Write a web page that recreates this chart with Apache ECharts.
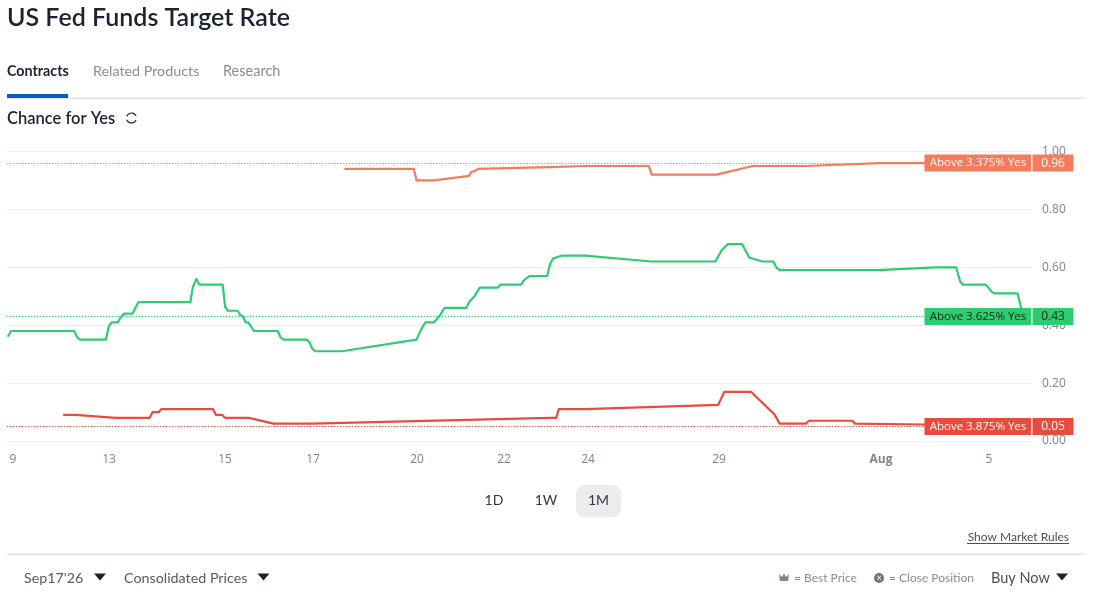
<!DOCTYPE html>
<html>
<head>
<meta charset="utf-8">
<style>html,body{margin:0;padding:0;background:#fff}#c{width:1100px;height:600px}</style>
<script src="https://cdn.jsdelivr.net/npm/echarts@6/dist/echarts.min.js"></script>
</head>
<body>
<div id="c"></div>
<script>
// logical x positions along the session-compressed time axis
const xTickPositions = [6, 102, 218, 306, 410, 497, 581, 712, 874, 982];
const xTickLabels = ['9', '13', '15', '17', '20', '22', '24', '29', 'Aug', '5'];
const yTicks = [0, 0.2, 0.4, 0.6, 0.8, 1];

const greenX = [0.7,4.2,67.3,70.2,73,98.9,101.7,104.5,110.8,114.3,117.1,125.6,131.5,183.4,185.9,189.4,192.2,215.7,218.1,221,230.8,233.2,236,238.5,241.3,246.9,270.8,273.6,276.4,299.9,302.7,305.1,307.9,334.9,409.6,413.8,418.4,427.2,432.1,437.7,459.4,462.2,467.5,472.8,491,493.4,514.1,516.9,522.6,540.1,543,545.8,554.2,578.1,644.7,708.5,714.8,720.8,735.2,742.2,755.2,766.4,769.2,772.7,870.9,928.8,949.1,953.3,955.8,978.9,984.9,987.7,1010.5,1014.7,1015.5];
const greenY = [0.36,0.38,0.38,0.358,0.35,0.35,0.395,0.41,0.41,0.43,0.44,0.44,0.48,0.48,0.533,0.56,0.54,0.54,0.463,0.45,0.45,0.435,0.43,0.41,0.41,0.38,0.38,0.358,0.35,0.35,0.34,0.32,0.31,0.31,0.35,0.383,0.41,0.41,0.43,0.46,0.46,0.48,0.50,0.53,0.53,0.54,0.54,0.555,0.57,0.57,0.61,0.63,0.64,0.64,0.62,0.62,0.66,0.68,0.68,0.634,0.62,0.62,0.60,0.59,0.59,0.60,0.60,0.55,0.54,0.54,0.515,0.51,0.51,0.452,0.43];
const orangeX = [337.4,406.8,409.6,427.2,462.2,464.3,467.8,470.7,543,578.1,641.9,644.7,709.6,745.7,799,872.7,1015];
const orangeY = [0.94,0.94,0.90,0.90,0.916,0.93,0.932,0.94,0.946,0.95,0.95,0.92,0.92,0.95,0.95,0.96,0.96];
const redX = [56.1,68.4,108.7,142.7,145.6,151.9,154.3,206.2,209,215.3,218.1,242,266.5,305.1,543,549.3,551.8,578.1,711.3,717.3,744,767.4,772.7,799,801.8,845.3,848.1,914.7,1015];
const redY = [0.09,0.09,0.08,0.08,0.10,0.10,0.11,0.11,0.09,0.09,0.08,0.08,0.06,0.06,0.08,0.08,0.11,0.11,0.125,0.17,0.17,0.092,0.06,0.06,0.07,0.07,0.06,0.057,0.05];

const seriesNames = ['Above 3.375% Yes', 'Above 3.625% Yes', 'Above 3.875% Yes'];
const lastValues = [0.96, 0.43, 0.05];
const seriesColors = ['#f47b5b', '#2ecc71', '#e74c3c'];
const tagTextColors = ['#ffffff', '#10231a', '#ffffff'];

const FONT = 'Lato, "Open Sans", sans-serif';
const TAGFONT = '"Open Sans", "Noto Sans", sans-serif';
const pair = (xs, ys) => xs.map((x, i) => [x, ys[i]]);

function makeSeries(i, xs, ys) {
  const c = seriesColors[i], t = tagTextColors[i];
  const dotted = { color: c, type: [1.5, 1.5], width: 1, opacity: 0.9 };
  return {
    type: 'line', name: seriesNames[i], data: pair(xs, ys),
    showSymbol: false, symbol: 'none', smooth: false, sampling: null, clip: false,
    itemStyle: { color: c },
    lineStyle: { color: c, width: 2.2, join: 'round' }, z: 3 + (i === 1 ? 1 : 0),
    markLine: {
      silent: true, symbol: 'none', animation: false,
      itemStyle: { color: c },
      lineStyle: dotted,
      label: { show: false },
      data: [{ yAxis: lastValues[i], lineStyle: dotted, itemStyle: { color: c } }]
    },
    markPoint: {
      silent: true, animation: false, symbol: 'rect', symbolSize: 0,
      data: [{ coord: [917.5, lastValues[i]] }],
      label: {
        show: true, position: 'right', distance: 0,
        formatter: '{a|' + seriesNames[i] + '}{g|}{b|' + lastValues[i].toFixed(2) + '}',
        rich: {
          a: { backgroundColor: c, color: t, width: 107, height: 17, lineHeight: 17, align: 'center', fontFamily: TAGFONT, fontSize: 11.5 },
          g: { width: 1, height: 17, backgroundColor: '#fff' },
          b: { backgroundColor: c, color: t, width: 41, height: 17, lineHeight: 17, align: 'center', fontFamily: TAGFONT, fontSize: 12 }
        }
      }
    }
  };
}

const txt = (x, y, text, o) => ({
  type: 'text', x, y, z: 50,
  style: Object.assign({ text, fontFamily: FONT, fontSize: 14, fill: '#1c2230', verticalAlign: 'middle', align: 'left' }, o || {})
});
const rect = (x, y, width, height, fill, r) => ({
  type: 'rect', z: 40, shape: { x, y, width, height, r: r || 0 }, style: { fill }
});
const tri = (cx, cy, fill) => ({
  type: 'polygon', z: 50, shape: { points: [[cx - 6, cy - 3.5], [cx + 6, cy - 3.5], [cx, cy + 3.5]] }, style: { fill: fill || '#1c2230' }
});

const chart = echarts.init(document.getElementById('c'));
chart.setOption({
  animation: false,
  backgroundColor: '#fff',
  grid: { left: 7, top: 151.5, width: 1025, height: 289.5, containLabel: false },
  xAxis: {
    type: 'value', min: 0, max: 1025,
    axisLine: { show: false }, axisTick: { show: false }, splitLine: { show: false },
    axisLabel: {
      customValues: xTickPositions, margin: 13, hideOverlap: false,
      fontFamily: TAGFONT, fontSize: 12, color: '#7d8392',
      formatter: v => {
        const l = xTickLabels[xTickPositions.indexOf(v)];
        return l === 'Aug' ? '{b|Aug}' : l;
      },
      rich: { b: { fontWeight: 'bold', fontFamily: TAGFONT, fontSize: 12, color: '#7d8392' } }
    }
  },
  yAxis: {
    type: 'value', position: 'right', min: 0, max: 1, interval: 0.2,
    axisLine: { show: false }, axisTick: { show: false },
    splitLine: { lineStyle: { color: '#eeeeee', width: 1 } },
    axisLabel: {
      margin: 10, fontFamily: TAGFONT, fontSize: 12, color: '#7d8392', lineHeight: 16, padding: [3, 0, 0, 0], verticalAlign: 'middle',
      formatter: v => v.toFixed(2)
    }
  },
  series: [
    makeSeries(0, orangeX, orangeY),
    makeSeries(1, greenX, greenY),
    makeSeries(2, redX, redY)
  ],
  graphic: { elements: [
    rect(1036, 445, 40, 8, '#fff'),
    txt(7, 17.5, 'US Fed Funds Target Rate', { fontSize: 25, fontWeight: 600 }),
    txt(7, 71, 'Contracts', { fontSize: 14.3, fontWeight: 700 }),
    txt(93, 71, 'Related Products', { fontSize: 14.3, fill: '#878c96' }),
    txt(223, 71, 'Research', { fontSize: 14.5, fill: '#878c96' }),
    rect(7, 97.5, 1078, 1.5, '#e4e4e4'),
    rect(7, 94, 61, 4, '#0b5cc4'),
    txt(7, 118.5, 'Chance for Yes', { fontSize: 16.5, fontWeight: 600 }),
    { type: 'arc', z: 50, shape: { cx: 131.5, cy: 118, r: 5, startAngle: 3.5, endAngle: 5.9 }, style: { stroke: '#1c2230', lineWidth: 1.2, fill: 'none' } },
    { type: 'arc', z: 50, shape: { cx: 131.5, cy: 118, r: 5, startAngle: 0.4, endAngle: 2.8 }, style: { stroke: '#1c2230', lineWidth: 1.2, fill: 'none' } },
    rect(576, 485, 45, 32, '#ececec', 8),
    txt(494, 500.5, '1D', { align: 'center', fontSize: 14, fill: '#333a45' }),
    txt(546, 500.5, '1W', { align: 'center', fontSize: 14, fill: '#333a45' }),
    txt(598.5, 500.5, '1M', { align: 'center', fontSize: 14, fill: '#333a45' }),
    txt(1069, 537, 'Show Market Rules', { align: 'right', fontSize: 12, fill: '#4a4f59' }),
    rect(967, 543, 102, 1, '#4a4f59'),
    rect(7, 553.5, 1078, 1.5, '#e4e4e4'),
    txt(24, 578, "Sep17'26", { fontSize: 14.3, fill: '#555b66' }),
    tri(100, 577),
    txt(124, 578, 'Consolidated Prices', { fontSize: 14.3, fill: '#555b66' }),
    tri(263.5, 577),
    { type: 'polygon', z: 50, shape: { points: [[779, 574], [782, 577], [784, 573.5], [786, 577], [789, 574], [788, 581], [780, 581]] }, style: { fill: '#7d8392' } },
    txt(794, 578, '= Best Price', { fontSize: 12, fill: '#878c96' }),
    { type: 'circle', z: 50, shape: { cx: 879, cy: 578, r: 5 }, style: { fill: '#6f7480' } },
    txt(876.5, 578, '×', { fontSize: 9, fill: '#fff' }),
    txt(889, 578, '= Close Position', { fontSize: 12, fill: '#878c96' }),
    txt(991, 578, 'Buy Now', { fontSize: 14.5, fill: '#4a4f59' }),
    tri(1062, 577)
  ] }
});
</script>
</body>
</html>
